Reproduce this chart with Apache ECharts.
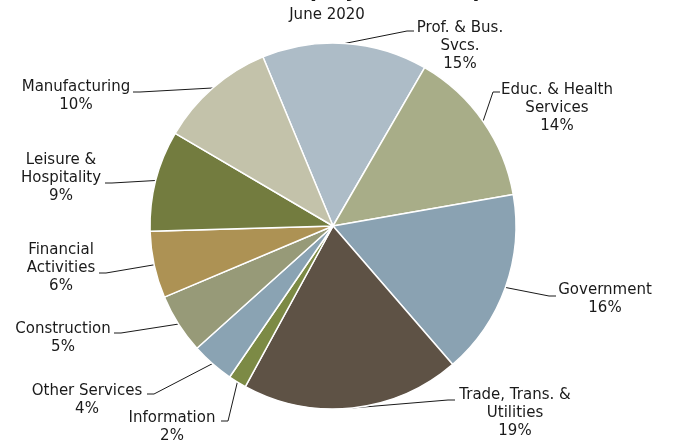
<!DOCTYPE html>
<html><head><meta charset="utf-8">
<script src="https://cdn.jsdelivr.net/npm/echarts@6/dist/echarts.min.js"></script>
<style>html,body{margin:0;padding:0;background:#fff}#c{width:673px;height:442px}</style>
</head><body><div id="c"></div>
<script>
// ---- data ----
const categories = ['Prof. & Bus.\nSvcs.', 'Educ. & Health\nServices', 'Government', 'Trade, Trans. &\nUtilities', 'Information', 'Other Services', 'Construction', 'Financial\nActivities', 'Leisure &\nHospitality', 'Manufacturing'];
const shares = [14.6, 13.9, 16.4, 19.3, 1.6, 3.8, 5.3, 5.9, 8.9, 10.3];
const titleText = 'Nonfarm Employment Composition';
const subtitleText = 'June 2020';

// ---- styling ----
const colors = ['#adbcc7', '#a8ad88', '#8aa2b2', '#5e5245', '#7c8a45', '#8aa3b3', '#979a78', '#ad9254', '#737c3f', '#c3c2aa'];
// label layout: [centerX, firstLineCenterY, anchorX, anchorY, side(+1 label right of pie, -1 left)]
const labelSpots = [
  [460, 28, 414, 31, 1],
  [557, 90, 500, 92, 1],
  [605, 290, 556, 296, 1],
  [515, 395, 455, 400, 1],
  [172, 418, 221, 421, -1],
  [87, 391, 147, 394, -1],
  [63, 329, 114, 333, -1],
  [61, 250, 99, 273, -1],
  [61, 160, 105, 183, -1],
  [76, 87, 133, 92, -1]
];
const FONT = 'DejaVu Sans';

const chart = echarts.init(document.getElementById('c'), null, {renderer: 'canvas'});
chart.setOption({
  animation: false,
  backgroundColor: '#ffffff',
  graphic: [
    {type: 'text', x: 171, y: 2, style: {text: titleText, font: 'bold 20px "DejaVu Sans"', fill: '#1a1a1a', textAlign: 'left', textVerticalAlign: 'bottom'}},
    {type: 'text', x: 327, y: 8, style: {text: subtitleText, font: '15px "DejaVu Sans"', fill: '#1a1a1a', textAlign: 'center', textVerticalAlign: 'top'}}
  ],
  series: [{
    type: 'pie',
    center: [333, 226],
    radius: 183,
    startAngle: 112.5,
    clockwise: true,
    avoidLabelOverlap: false,
    data: categories.map((c, i) => ({name: c, value: shares[i], itemStyle: {color: colors[i]}})),
    itemStyle: {borderColor: '#ffffff', borderWidth: 1.5},
    label: {
      show: true,
      position: 'outside',
      formatter: p => p.name + '\n' + Math.round(p.percent) + '%',
      fontFamily: FONT,
      fontSize: 15,
      lineHeight: 18,
      color: '#1a1a1a',
      align: 'center'
    },
    labelLine: {show: true, length: 10, length2: 10, lineStyle: {color: '#1a1a1a', width: 1}},
    labelLayout: function (params) {
      const s = labelSpots[params.dataIndex];
      const p0 = params.labelLinePoints ? params.labelLinePoints[0] : [s[2], s[3]];
      return {
        x: s[0],
        y: s[1] - 9,
        align: 'center',
        verticalAlign: 'top',
        labelLinePoints: [p0, [s[2] - 7 * s[4], s[3]], [s[2], s[3]]]
      };
    },
    emphasis: {disabled: true}
  }]
});
</script>
</body></html>
